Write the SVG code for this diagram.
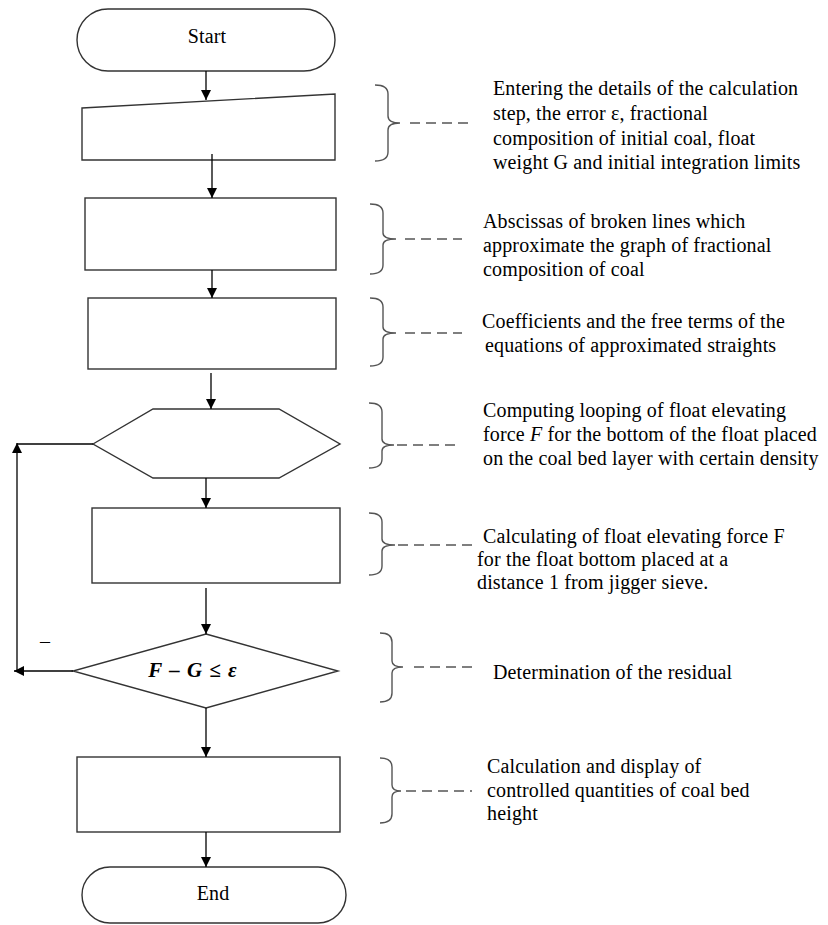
<svg xmlns="http://www.w3.org/2000/svg" width="828" height="925" viewBox="0 0 828 925">
<defs>
<marker id="ah" markerUnits="userSpaceOnUse" markerWidth="10" markerHeight="12" refX="10" refY="5" orient="auto">
<path d="M0,0 L10,5 L0,10 Z" fill="#000"/>
</marker>
<style>
.shape{fill:#fff;stroke:#333;stroke-width:1.4}
.conn{fill:none;stroke:#000;stroke-width:1.3;marker-end:url(#ah)}
.plain{fill:none;stroke:#000;stroke-width:1.3}
.brace{fill:none;stroke:#555;stroke-width:1.4}
.dash{fill:none;stroke:#000;stroke-width:1.1;stroke-dasharray:10 6}
text{font-family:'Liberation Serif','Times New Roman','DejaVu Serif',serif;font-size:20px;letter-spacing:0.15px;fill:#000}
.lbl{text-anchor:middle}
</style>
</defs>
<rect width="828" height="925" fill="#fff"/>

<g id="start">
<rect class="shape" x="77" y="9" width="258" height="62" rx="31" ry="31"/>
<text class="lbl" x="207" y="43">Start</text>
</g>
<g id="input">
<polygon class="shape" points="82,108 335,94 335,160 82,160"/>
</g>
<g id="abscissas">
<rect class="shape" x="85" y="198" width="251" height="72"/>
</g>
<g id="coefficients">
<rect class="shape" x="88" y="298" width="248" height="71"/>
</g>
<g id="loop">
<polygon class="shape" points="93,444 153,409 279,409 340,444 279,478 153,478"/>
</g>
<g id="force">
<rect class="shape" x="92" y="508" width="248" height="75"/>
</g>
<g id="decision">
<polygon class="shape" points="206,634 338,671 206,708 73,671"/>
<text class="lbl" x="193" y="677" style="font-weight:bold;font-style:italic;font-size:21px;letter-spacing:1px">F – G ≤ ε</text>
</g>
<g id="output">
<rect class="shape" x="77" y="757" width="263" height="75"/>
</g>
<g id="end">
<rect class="shape" x="82" y="867" width="264" height="56" rx="28" ry="28"/>
<text class="lbl" x="213" y="900">End</text>
</g>

<g id="connectors">
<line class="conn" x1="206" y1="71" x2="206" y2="100"/>
<line class="conn" x1="212" y1="154" x2="212" y2="198"/>
<line class="conn" x1="212" y1="270" x2="212" y2="298"/>
<line class="conn" x1="211" y1="373" x2="211" y2="409"/>
<line class="conn" x1="206" y1="478" x2="206" y2="508"/>
<line class="conn" x1="206" y1="588" x2="206" y2="634"/>
<line class="conn" x1="73" y1="671" x2="14" y2="671"/>
<line class="conn" x1="17" y1="671" x2="17" y2="443"/>
<line class="plain" x1="17" y1="444" x2="93" y2="444"/>
<line class="conn" x1="206" y1="708" x2="206" y2="757"/>
<line class="conn" x1="206" y1="832" x2="206" y2="867"/>
<text x="40" y="648">–</text>
</g>

<g id="note1">
<path class="brace" d="M375,85 Q388,85 388,94 L388,116 Q388,123 400,123 Q388,123 388,130 L388,152 Q388,161 375,161"/>
<line class="dash" x1="410" y1="123" x2="468" y2="123"/>
<text x="493" y="95">Entering the details of the calculation</text>
<text x="493" y="120">step, the error ε, fractional</text>
<text x="493" y="145">composition of initial coal, float</text>
<text x="493" y="169">weight G and initial integration limits</text>
</g>
<g id="note2">
<path class="brace" d="M370,204 Q383,204 383,213 L383,233 Q383,239 396,239 Q383,239 383,245 L383,265 Q383,274 370,274"/>
<line class="dash" x1="405" y1="239" x2="462" y2="239"/>
<text x="483" y="228">Abscissas of broken lines which</text>
<text x="483" y="252">approximate the graph of fractional</text>
<text x="483" y="276">composition of coal</text>
</g>
<g id="note3">
<path class="brace" d="M370,298 Q383,298 383,307 L383,327 Q383,333 396,333 Q383,333 383,339 L383,357 Q383,366 370,366"/>
<line class="dash" x1="405" y1="333" x2="462" y2="333"/>
<text x="482" y="328">Coefficients and the free terms of the</text>
<text x="485" y="352">equations of approximated straights</text>
</g>
<g id="note4">
<path class="brace" d="M369,403 Q382,403 382,412 L382,439 Q382,445 394,445 Q382,445 382,451 L382,459 Q382,468 369,468"/>
<line class="dash" x1="397" y1="445" x2="460" y2="445"/>
<text x="483" y="417">Computing looping of float elevating</text>
<text x="483" y="441">force <tspan font-style="italic">F</tspan> for the bottom of the float placed</text>
<text x="483" y="465">on the coal bed layer with certain density</text>
</g>
<g id="note5">
<path class="brace" d="M369,513 Q382,513 382,522 L382,539 Q382,545 395,545 Q382,545 382,551 L382,566 Q382,575 369,575"/>
<line class="dash" x1="398" y1="545" x2="478" y2="545"/>
<text x="483" y="543">Calculating of float elevating force F</text>
<text x="477" y="566">for the float bottom placed at a</text>
<text x="477" y="589">distance 1 from jigger sieve.</text>
</g>
<g id="note6">
<path class="brace" d="M380,633 Q392,633 392,642 L392,661 Q392,667 403,667 Q392,667 392,673 L392,693 Q392,702 380,702"/>
<line class="dash" x1="414" y1="667" x2="473" y2="667"/>
<text x="493" y="679">Determination of the residual</text>
</g>
<g id="note7">
<path class="brace" d="M380,758 Q392,758 392,767 L392,785 Q392,791 401,791 Q392,791 392,797 L392,814 Q392,823 380,823"/>
<line class="dash" x1="406" y1="791" x2="472" y2="791"/>
<text x="487" y="773">Calculation and display of</text>
<text x="487" y="797">controlled quantities of coal bed</text>
<text x="487" y="820">height</text>
</g>
</svg>
